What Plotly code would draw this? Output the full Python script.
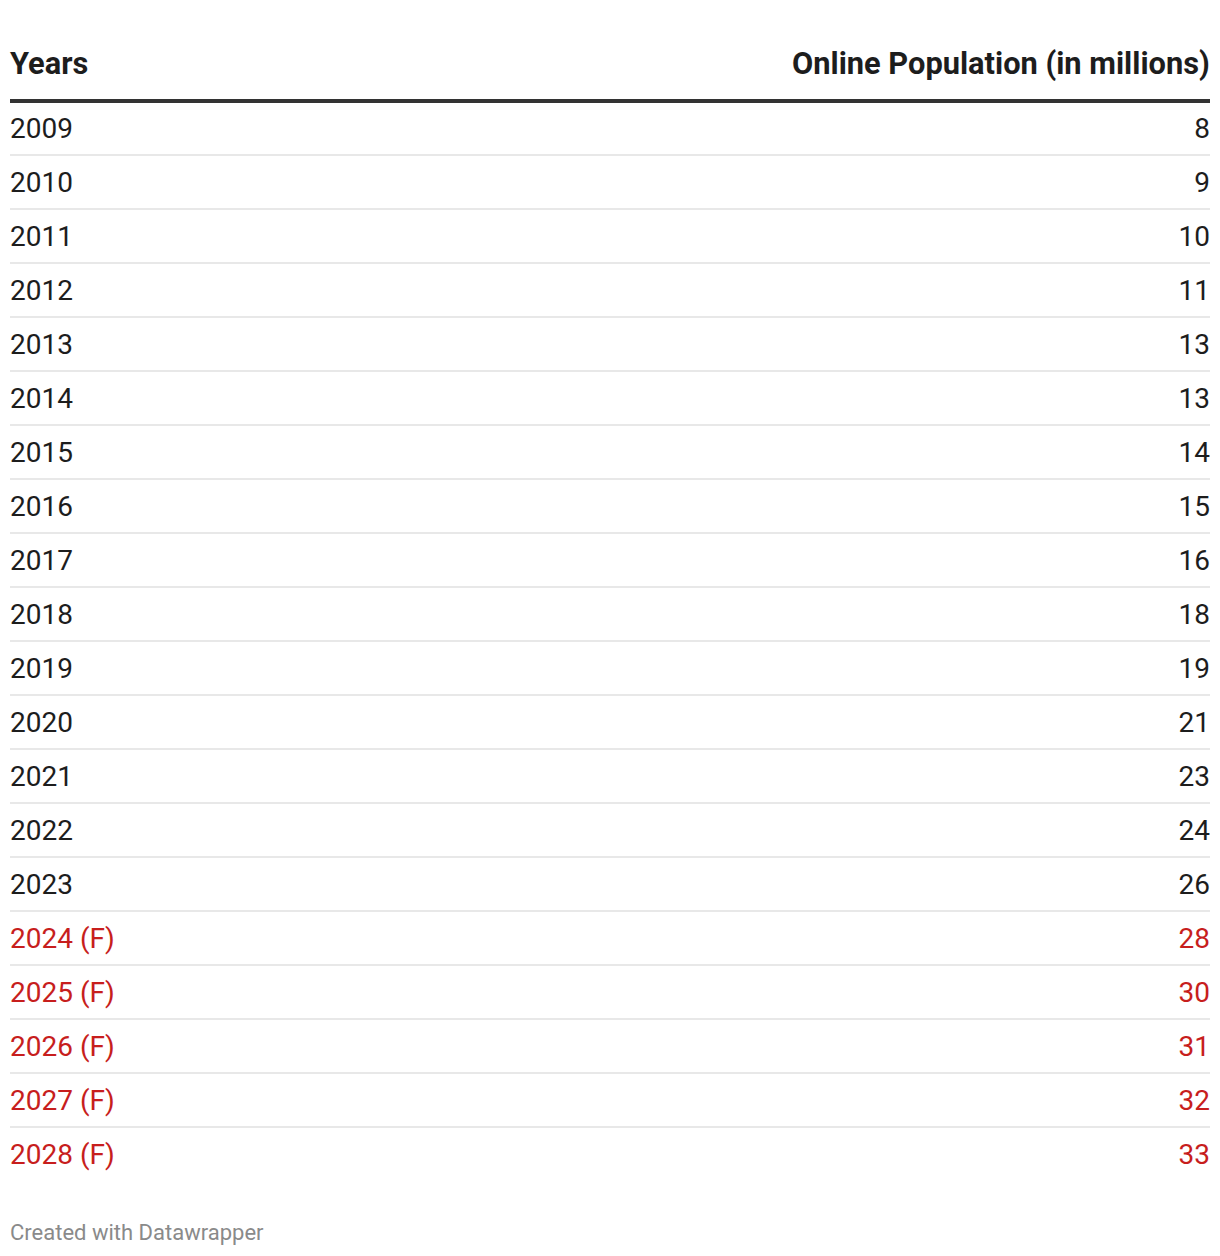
"""
Online population table (Datawrapper style) rebuilt with Plotly
"""
import plotly.graph_objects as go

years = ["2009", "2010", "2011", "2012", "2013", "2014", "2015", "2016", "2017", "2018",
         "2019", "2020", "2021", "2022", "2023", "2024 (F)", "2025 (F)", "2026 (F)",
         "2027 (F)", "2028 (F)"]
online_population = [8, 9, 10, 11, 13, 13, 14, 15, 16, 18, 19, 21, 23, 24, 26, 28, 30, 31, 32, 33]
header_left = "Years"
header_right = "Online Population (in millions)"
footer = "Created with Datawrapper"

WIDTH, HEIGHT = 1220, 1256
ROW_PX = 54          # row height in pixels
FIRST_ROW_PX = 128   # centre of the first row
TEXT = "#1d1d1d"
RED = "#c71e1d"
FONT = "Roboto, Arial, sans-serif"

rows = list(range(len(years)))
colors = [RED if "(F)" in y else TEXT for y in years]

# y axis is in row units, scaled so that one row = ROW_PX pixels
y_top = -FIRST_ROW_PX / ROW_PX
y_bottom = y_top + HEIGHT / ROW_PX
x_max = WIDTH - 20
nudge = 3 / ROW_PX   # scatter text sits a little high, push it down

fig = go.Figure()
fig.add_trace(go.Scatter(
    x=[0] * len(years), y=[r + nudge for r in rows], mode="text", text=years,
    textposition="middle right",
    textfont=dict(family=FONT, size=28, color=colors),
    hoverinfo="skip", showlegend=False,
))
fig.add_trace(go.Scatter(
    x=[x_max] * len(years), y=[r + nudge for r in rows], mode="text",
    text=[str(v) for v in online_population],
    textposition="middle left",
    textfont=dict(family=FONT, size=28, color=colors),
    hoverinfo="skip", showlegend=False,
))

# header
header_y = y_top + 63 / ROW_PX
fig.add_annotation(x=0, y=header_y, xref="x", yref="y", text=f"<b>{header_left}</b>",
                   showarrow=False, xanchor="left", yanchor="middle", xshift=-2,
                   font=dict(family=FONT, size=30.8, color=TEXT))
fig.add_annotation(x=x_max, y=header_y, xref="x", yref="y", text=f"<b>{header_right}</b>",
                   showarrow=False, xanchor="right", yanchor="middle", xshift=2,
                   font=dict(family=FONT, size=30.8, color=TEXT))
fig.add_shape(type="line", x0=0, x1=x_max, y0=-0.5, y1=-0.5, xref="x", yref="y",
              line=dict(color="#333333", width=4))

# footer
fig.add_annotation(x=0, y=1 - 1232 / HEIGHT, xref="x", yref="paper", text=footer,
                   showarrow=False, xanchor="left", yanchor="middle", xshift=-2,
                   font=dict(family=FONT, size=22, color="#8a8a8a"))

fig.update_xaxes(range=[0, x_max], visible=False, fixedrange=True)
fig.update_yaxes(
    range=[y_bottom, y_top],
    tickvals=[r + 0.5 for r in rows[:-1]],
    showgrid=True, gridcolor="#e8e8e8", gridwidth=2,
    showticklabels=False, zeroline=False, showline=False, ticks="",
    fixedrange=True,
)
fig.update_layout(
    width=WIDTH, height=HEIGHT,
    margin=dict(l=10, r=10, t=0, b=0),
    paper_bgcolor="white", plot_bgcolor="white",
    font=dict(family=FONT),
)

fig.write_html("out.html", config={"displayModeBar": False},
               post_script="document.body.style.margin='0';")
